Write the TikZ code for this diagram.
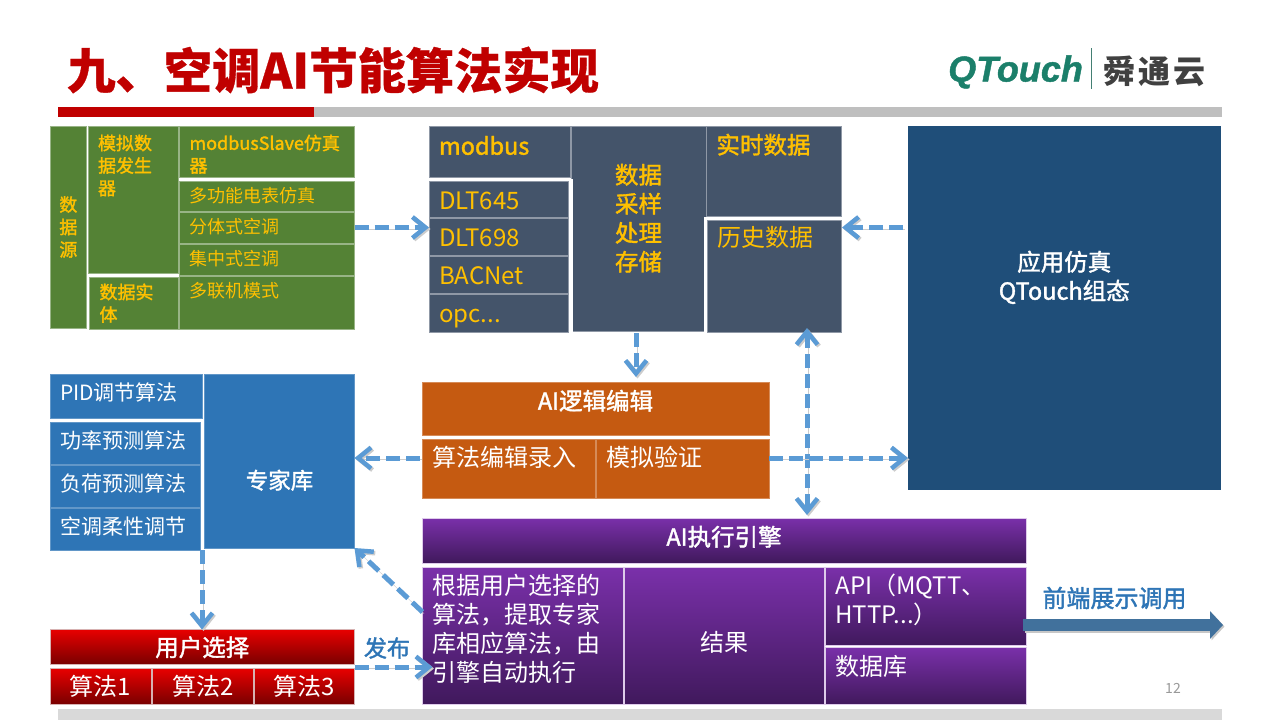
\documentclass[tikz,border=0pt]{standalone}
\usepackage{fontspec}
\setmainfont{Noto Sans CJK SC}
\newfontfamily\logofont[BoldItalicFeatures={FakeBold=1.2}]{Liberation Sans}
\newfontfamily\medfont[FakeBold=1.6]{Noto Sans CJK SC}
\newfontfamily\titlefont[BoldFeatures={FakeBold=0.6}]{Noto Sans CJK SC}
\usetikzlibrary{arrows.meta,positioning}
\definecolor{flowblue}{HTML}{5B9BD5}
\definecolor{gold}{HTML}{FFC000}
\definecolor{slate}{HTML}{44546A}
\definecolor{leaf}{HTML}{548235}
\definecolor{ocean}{HTML}{2E75B6}
\definecolor{navy}{HTML}{1F4E79}
\definecolor{rust}{HTML}{C55A11}
\definecolor{topviolet}{HTML}{7A30AA}
\definecolor{lowviolet}{HTML}{40195C}
\definecolor{topred}{HTML}{E80000}
\definecolor{lowred}{HTML}{780000}
\definecolor{logogreen}{HTML}{1B7F6A}
\definecolor{steel}{HTML}{41719C}
\definecolor{titlered}{HTML}{C00000}
\tikzset{
  basic/.style     = {rectangle, inner sep=0pt, outer sep=0pt, line width=.6pt},
  greencell/.style = {basic, fill=leaf, draw=leaf!60!white, text=gold},
  slatecell/.style = {basic, fill=slate, draw=slate!60!white, text=gold},
  bluecell/.style  = {basic, fill=ocean, draw=ocean!75!white, text=white},
  rustcell/.style  = {basic, fill=rust, draw=rust!70!white, text=white},
  purplecell/.style= {basic, top color=topviolet, bottom color=lowviolet, draw=white!75!topviolet, text=white},
  redcell/.style   = {basic, top color=topred, bottom color=lowred, draw=white!70!lowred, text=white},
  smalltext/.style = {font=\fontsize{18}{22.5}\selectfont},
  smallbold/.style = {font=\medfont\fontsize{18}{22.5}\selectfont},
  midtext/.style   = {font=\fontsize{21}{26}\selectfont},
  bigtext/.style   = {font=\fontsize{24}{29}\selectfont},
  bigbold/.style   = {font=\medfont\fontsize{23.5}{29}\selectfont},
  flow/.style      = {draw=flowblue, line width=5pt, dash pattern=on 14pt off 6pt,
                      preaction={draw=black!20, transform canvas={shift={(1.5pt,-1.5pt)}}}},
  sepline/.style   = {draw=white, line width=2.5pt}
}
% style, name, x, y, w, h, text (optional: gap above the text)
\newcommand{\topcell}[8][6]{%
  \node[#2,anchor=north west] (#3) at (#4,#5)
    {\parbox[c][#7pt][t]{#6pt}{\vspace*{#1pt}\raggedright\leftskip=10pt \rule{0pt}{.88em}#8}};
}
\newcommand{\opctext}{opc...}
\begin{document}
\begin{tikzpicture}[x=1pt,y=-1pt,>={Straight Barb[length=13pt,width=21pt,line width=4.5pt]}]

\useasboundingbox (0,0) rectangle (1280,720);
\fill[white] (0,0) rectangle (1280,720);

% title and bars
\node[anchor=west,inner sep=0pt,text=titlered,font=\titlefont\fontsize{48.3}{48}\selectfont\bfseries] (title) at (67,70) {九、空调AI节能算法实现};
\fill[black!25] (58,107) rectangle (1222,117);
\fill[titlered] (58,107) rectangle (314,117);
\fill[black!15] (58,709) rectangle (1222,720);
\node[anchor=west,inner sep=0pt,text=logogreen,font=\logofont\fontsize{36}{36}\selectfont\bfseries\itshape] (logo) at (948,72) {QTouch};
\draw[draw=logogreen!60!gray,line width=.7pt] (1091,48) -- (1091,89);
\node[anchor=west,inner sep=0pt,text=black!75,font=\fontsize{32}{32}\selectfont\bfseries] (logocn) at (1103,71) {舜\hspace{3pt}通\hspace{3pt}云};
\node[text=black!40,font=\fontsize{14}{14}\selectfont] (page) at (1173,688) {12};

% data source
\node[greencell,smallbold,anchor=north west,minimum width=36.7pt,minimum height=202pt,align=center] (yuan) at (50,126) {数\\据\\源};
\topcell[8]{greencell,smallbold}{moni}{88}{126}{90}{147}{模拟数\\据发生\\器}
\topcell[6]{greencell,smallbold}{shiti}{89.5}{277}{88.5}{52}{数据实\\体}
\topcell[8]{greencell,smallbold}{slave}{179.5}{126}{175}{51}{modbusSlave仿真\\器}
\foreach \n/\y/\h/\t in {duogong/181/30/多功能电表仿真, fenti/212/31/分体式空调, jizhong/244/31/集中式空调, duolian/276/53/多联机模式}{
    \topcell[6]{greencell,smalltext}{\n}{179.5}{\y}{175}{\h}{\t}
    }

% acquisition
\topcell[37]{slatecell,bigbold}{caiyang}{571}{126}{135}{205}{\centering 数据\\采样\\处理\\存储}
\draw[sepline] (571.5,179) -- (571.5,332);
\draw[sepline] (705.5,217) -- (705.5,333);
\topcell[8]{slatecell,bigbold}{modbus}{429}{126}{141}{51}{modbus}
\foreach \n/\y/\h/\t in {dlt645/181/36/DLT645, dlt698/218/37.5/DLT698, bacnet/256.5/37/BACNet, opc/294.5/37.5/\opctext}{
    \topcell[7]{slatecell,bigtext}{\n}{429}{\y}{139.5}{\h}{\t}
    }
\topcell[7]{slatecell,bigbold}{shishi}{706.5}{126}{134.5}{90}{实时数据}
\topcell[5]{slatecell,bigtext}{lishi}{707.5}{220}{133.5}{112}{历史数据}

% simulation
\topcell[124]{basic,fill=navy,text=white,bigbold}{yingyong}{908}{126}{312.5}{364}{\centering 应用仿真\\QTouch组态}

% expert library
\topcell[8]{bluecell,midtext}{pid}{50}{374}{152}{44}{PID调节算法}
\foreach \n/\y/\t in {gonglv/422/功率预测算法, fuhe/465/负荷预测算法, kongtiao/508/空调柔性调节}{
    \topcell[8.5]{bluecell,midtext}{\n}{50}{\y}{150}{42}{\t}
    }
\topcell[95]{bluecell,font=\medfont\fontsize{22.5}{26}\selectfont}{zhuanjia}{204.5}{374}{150}{174}{\centering 专家库}

% logic editor
\topcell[7]{rustcell,bigbold}{luoji}{422}{382}{347}{53}{\centering AI逻辑编辑}
\topcell[6]{rustcell,bigtext}{bianji}{422}{439}{173.5}{59}{算法编辑录入}
\topcell[6]{rustcell,bigtext}{yanzheng}{596.5}{439}{172.5}{59}{模拟验证}

% user selection
\topcell[6]{redcell,bigbold}{xuanze}{50}{629.5}{304.5}{35}{\centering 用户选择}
\foreach \n/\x/\w/\t in {suanfa1/50/101/算法1, suanfa2/152.5/101/算法2, suanfa3/254.5/100/算法3}{
    \topcell[6]{redcell,bigtext}{\n}{\x}{668.5}{\w}{36}{\centering \t}
    }

% execution engine
\topcell[7]{purplecell,bigbold}{yinqing}{422}{518}{604}{45}{\centering AI执行引擎}
\topcell[6]{purplecell,bigtext}{yiju}{422.5}{567.5}{201}{137}{根据用户选择的\\算法，提取专家\\库相应算法，由\\引擎自动执行}
\topcell[63]{purplecell,bigtext}{jieguo}{624}{567.5}{200.5}{137}{\centering 结果}
\topcell[6]{purplecell,bigtext}{api}{825.5}{567.5}{200.5}{78}{API（MQTT、\\HTTP...）}
\topcell[7]{purplecell,bigtext}{shujuku}{825.5}{647}{200.5}{57.5}{数据库}

% connectors
\coordinate (algoy) at (0,458);
\coordinate (syncx) at (807,0);
\coordinate (usrx) at (202,0);
\coordinate (puby) at (0,667);
\coordinate (backy) at (0,612);
\coordinate (dropx) at (636,0);
\coordinate (frontout) at (1023,625);
\coordinate (frontend) at (1223,625);

\draw[flow,->] (fenti.east) -- (fenti.east -| dlt698.west);
\draw[flow,->,shorten <=5pt,shorten >=1pt] (yingyong.west |- fenti.east) -- (lishi.east |- fenti.east);
\draw[flow,->,shorten <=2pt,shorten >=5pt] (dropx |- caiyang.south) -- (dropx |- luoji.north);
\draw[flow,<->,shorten <=-4pt,shorten >=3pt] (syncx |- lishi.south) -- (syncx |- yinqing.north);
\draw[flow,->,shorten <=2pt] (bianji.west |- algoy) -- (zhuanjia.east |- algoy);
\draw[flow,->] (yanzheng.east |- algoy) -- (yingyong.west |- algoy);
\draw[flow,->] (usrx |- kongtiao.south) -- (usrx |- xuanze.north);
\draw[flow,->,shorten >=-10pt] (suanfa3.east |- puby) -- (yiju.west |- puby);
\draw[flow,->] (yiju.west |- backy) -- (zhuanjia.south east);

\node[text=ocean,font=\medfont\fontsize{23}{29}\selectfont] (fabu) at (387,648) {发布};
\node[text=ocean,font=\medfont\fontsize{24}{29}\selectfont] (qianduan) at (1114.5,598) {前端展示调用};
\draw[draw=black!22,line width=12pt,-{Triangle[length=13pt,width=27pt]},transform canvas={shift={(1.5pt,-1.5pt)}}] (frontout) -- (frontend);
\draw[draw=steel,line width=12pt,-{Triangle[length=13pt,width=27pt]}] (frontout) -- (frontend);

\end{tikzpicture}
\end{document}
